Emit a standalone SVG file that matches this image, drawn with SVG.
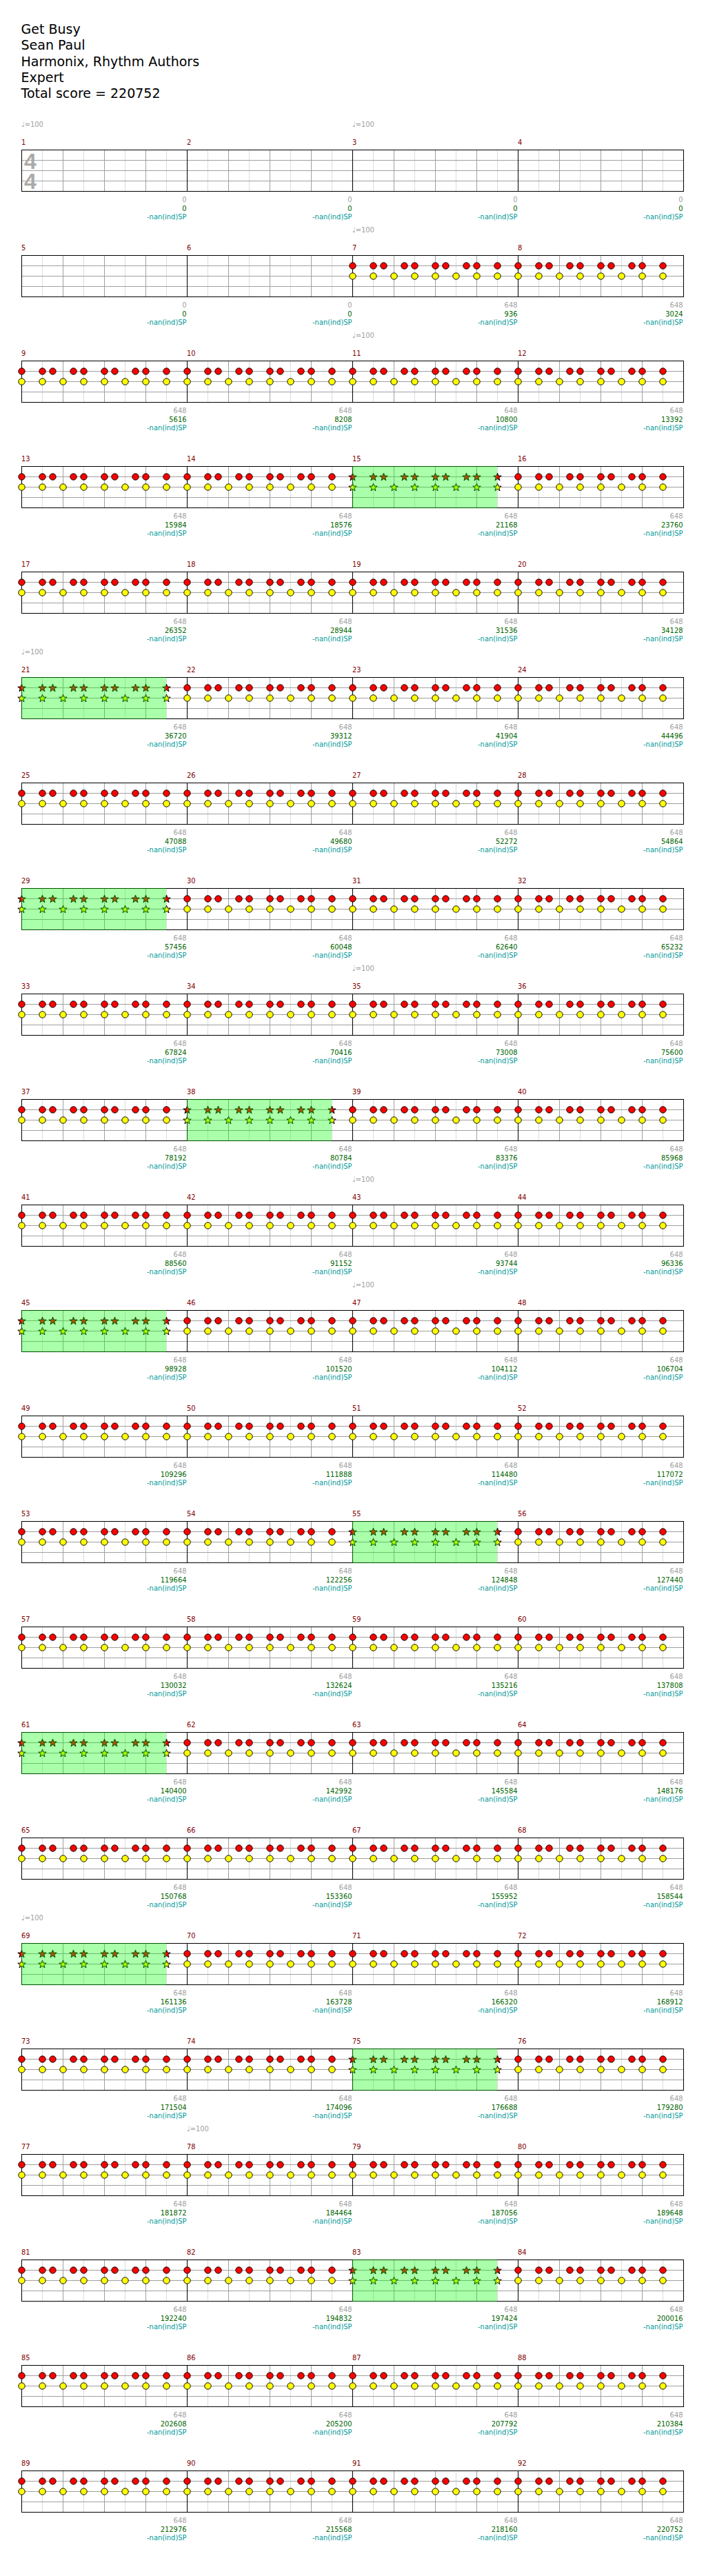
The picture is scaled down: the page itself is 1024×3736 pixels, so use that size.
<svg xmlns="http://www.w3.org/2000/svg" xmlns:xlink="http://www.w3.org/1999/xlink" width="1024" height="3736" viewBox="0 0 1024 3736">
<style>
.t{font-family:'DejaVu Sans',sans-serif;font-size:19px;fill:#000}
.s{font-family:'DejaVu Sans Condensed','DejaVu Sans',sans-serif;font-stretch:condensed;font-size:11px}
.mn{fill:#800000}
.tp{fill:#a0a0a0}
.g{fill:#a0a0a0;text-anchor:end}
.sc{fill:#006400;text-anchor:end}
.sp{fill:#009999;text-anchor:end}
.ts{font-family:'Liberation Sans',Arial,sans-serif;font-weight:bold;font-size:32px;fill:#aaaaaa}
.bd{fill:none;stroke:#000;stroke-width:1;shape-rendering:crispEdges}
.lt{stroke:#dcdcdc;stroke-width:1;fill:none;shape-rendering:crispEdges}
.dk{stroke:#a0a0a0;stroke-width:1;fill:none;shape-rendering:crispEdges}
.bar{stroke:#000;stroke-width:1;fill:none;shape-rendering:crispEdges}
.r{fill:#ff0000;stroke:#000;stroke-width:1}
.y{fill:#ffff00;stroke:#000;stroke-width:1}
.ov{fill:#00ff00;fill-opacity:0.333}
</style>
<defs>
<g id="grid">
<path class="lt" d="M30.5 1V60M90.5 1V60M150.5 1V60M210.5 1V60"/>
<path class="dk" d="M60.5 1V60M120.5 1V60M180.5 1V60M1 15.5H240M1 30.5H240M1 45.5H240"/>
<path class="bar" d="M0.5 0V61"/>
</g>
<g id="n">
<circle class="r" cx="0.5" cy="15.5" r="4.7"/><circle class="r" cx="30.5" cy="15.5" r="4.7"/><circle class="r" cx="45.5" cy="15.5" r="4.7"/><circle class="r" cx="75.5" cy="15.5" r="4.7"/><circle class="r" cx="90.5" cy="15.5" r="4.7"/><circle class="r" cx="120.5" cy="15.5" r="4.7"/><circle class="r" cx="135.5" cy="15.5" r="4.7"/><circle class="r" cx="165.5" cy="15.5" r="4.7"/><circle class="r" cx="180.5" cy="15.5" r="4.7"/><circle class="r" cx="210.5" cy="15.5" r="4.7"/>
<circle class="y" cx="0.5" cy="30.5" r="4.7"/><circle class="y" cx="30.5" cy="30.5" r="4.7"/><circle class="y" cx="60.5" cy="30.5" r="4.7"/><circle class="y" cx="90.5" cy="30.5" r="4.7"/><circle class="y" cx="120.5" cy="30.5" r="4.7"/><circle class="y" cx="150.5" cy="30.5" r="4.7"/><circle class="y" cx="180.5" cy="30.5" r="4.7"/><circle class="y" cx="210.5" cy="30.5" r="4.7"/>
</g>
<path id="star" d="M0,-6L1.41,-1.94L5.71,-1.85L2.28,0.74L3.53,4.85L0,2.4L-3.53,4.85L-2.28,0.74L-5.71,-1.85L-1.41,-1.94Z"/>
<g id="s">
<use xlink:href="#star" href="#star" class="r" x="0.5" y="16"/><use xlink:href="#star" href="#star" class="r" x="30.5" y="16"/><use xlink:href="#star" href="#star" class="r" x="45.5" y="16"/><use xlink:href="#star" href="#star" class="r" x="75.5" y="16"/><use xlink:href="#star" href="#star" class="r" x="90.5" y="16"/><use xlink:href="#star" href="#star" class="r" x="120.5" y="16"/><use xlink:href="#star" href="#star" class="r" x="135.5" y="16"/><use xlink:href="#star" href="#star" class="r" x="165.5" y="16"/><use xlink:href="#star" href="#star" class="r" x="180.5" y="16"/><use xlink:href="#star" href="#star" class="r" x="210.5" y="16"/>
<use xlink:href="#star" href="#star" class="y" x="0.5" y="31"/><use xlink:href="#star" href="#star" class="y" x="30.5" y="31"/><use xlink:href="#star" href="#star" class="y" x="60.5" y="31"/><use xlink:href="#star" href="#star" class="y" x="90.5" y="31"/><use xlink:href="#star" href="#star" class="y" x="120.5" y="31"/><use xlink:href="#star" href="#star" class="y" x="150.5" y="31"/><use xlink:href="#star" href="#star" class="y" x="180.5" y="31"/><use xlink:href="#star" href="#star" class="y" x="210.5" y="31"/>
</g>
<rect id="ov" class="ov" x="0" y="0" width="210" height="61"/>
</defs>
<rect x="0" y="0" width="1024" height="3736" fill="#fff"/>
<g id="title">
<text class="t" x="30.5" y="49">Get Busy</text>
<text class="t" x="30.5" y="72.2">Sean Paul</text>
<text class="t" x="30.5" y="95.5">Harmonix, Rhythm Authors</text>
<text class="t" x="30.5" y="118.6">Expert</text>
<text class="t" x="30.5" y="141.7">Total score = 220752</text>
</g>
<g id="staves">
<rect class="bd" x="31.5" y="217.5" width="960" height="60"/>
<rect class="bd" x="31.5" y="370.5" width="960" height="60"/>
<rect class="bd" x="31.5" y="523.5" width="960" height="60"/>
<rect class="bd" x="31.5" y="676.5" width="960" height="60"/>
<rect class="bd" x="31.5" y="829.5" width="960" height="60"/>
<rect class="bd" x="31.5" y="982.5" width="960" height="60"/>
<rect class="bd" x="31.5" y="1135.5" width="960" height="60"/>
<rect class="bd" x="31.5" y="1288.5" width="960" height="60"/>
<rect class="bd" x="31.5" y="1441.5" width="960" height="60"/>
<rect class="bd" x="31.5" y="1594.5" width="960" height="60"/>
<rect class="bd" x="31.5" y="1747.5" width="960" height="60"/>
<rect class="bd" x="31.5" y="1900.5" width="960" height="60"/>
<rect class="bd" x="31.5" y="2053.5" width="960" height="60"/>
<rect class="bd" x="31.5" y="2206.5" width="960" height="60"/>
<rect class="bd" x="31.5" y="2359.5" width="960" height="60"/>
<rect class="bd" x="31.5" y="2512.5" width="960" height="60"/>
<rect class="bd" x="31.5" y="2665.5" width="960" height="60"/>
<rect class="bd" x="31.5" y="2818.5" width="960" height="60"/>
<rect class="bd" x="31.5" y="2971.5" width="960" height="60"/>
<rect class="bd" x="31.5" y="3124.5" width="960" height="60"/>
<rect class="bd" x="31.5" y="3277.5" width="960" height="60"/>
<rect class="bd" x="31.5" y="3430.5" width="960" height="60"/>
<rect class="bd" x="31.5" y="3583.5" width="960" height="60"/>
</g>
<g id="measures">
<g id="m1" transform="translate(31,217)"><use href="#grid" xlink:href="#grid"/><text class="ts" x="4" y="28">4</text><text class="ts" x="4" y="57">4</text><text class="s tp" y="-33">♩=100</text><text class="s mn" y="-7">1</text><text class="s g" x="239.5" y="75.7">0</text><text class="s sc" x="239.5" y="88.7">0</text><text class="s sp" x="239.5" y="101.3">-nan(ind)SP</text></g>
<g id="m2" transform="translate(271,217)"><use href="#grid" xlink:href="#grid"/><text class="s mn" y="-7">2</text><text class="s g" x="239.5" y="75.7">0</text><text class="s sc" x="239.5" y="88.7">0</text><text class="s sp" x="239.5" y="101.3">-nan(ind)SP</text></g>
<g id="m3" transform="translate(511,217)"><use href="#grid" xlink:href="#grid"/><text class="s tp" y="-33">♩=100</text><text class="s mn" y="-7">3</text><text class="s g" x="239.5" y="75.7">0</text><text class="s sc" x="239.5" y="88.7">0</text><text class="s sp" x="239.5" y="101.3">-nan(ind)SP</text></g>
<g id="m4" transform="translate(751,217)"><use href="#grid" xlink:href="#grid"/><text class="s mn" y="-7">4</text><text class="s g" x="239.5" y="75.7">0</text><text class="s sc" x="239.5" y="88.7">0</text><text class="s sp" x="239.5" y="101.3">-nan(ind)SP</text></g>
<g id="m5" transform="translate(31,370)"><use href="#grid" xlink:href="#grid"/><text class="s mn" y="-7">5</text><text class="s g" x="239.5" y="75.7">0</text><text class="s sc" x="239.5" y="88.7">0</text><text class="s sp" x="239.5" y="101.3">-nan(ind)SP</text></g>
<g id="m6" transform="translate(271,370)"><use href="#grid" xlink:href="#grid"/><text class="s mn" y="-7">6</text><text class="s g" x="239.5" y="75.7">0</text><text class="s sc" x="239.5" y="88.7">0</text><text class="s sp" x="239.5" y="101.3">-nan(ind)SP</text></g>
<g id="m7" transform="translate(511,370)"><use href="#grid" xlink:href="#grid"/><use href="#n" xlink:href="#n"/><text class="s tp" y="-33">♩=100</text><text class="s mn" y="-7">7</text><text class="s g" x="239.5" y="75.7">648</text><text class="s sc" x="239.5" y="88.7">936</text><text class="s sp" x="239.5" y="101.3">-nan(ind)SP</text></g>
<g id="m8" transform="translate(751,370)"><use href="#grid" xlink:href="#grid"/><use href="#n" xlink:href="#n"/><text class="s mn" y="-7">8</text><text class="s g" x="239.5" y="75.7">648</text><text class="s sc" x="239.5" y="88.7">3024</text><text class="s sp" x="239.5" y="101.3">-nan(ind)SP</text></g>
<g id="m9" transform="translate(31,523)"><use href="#grid" xlink:href="#grid"/><use href="#n" xlink:href="#n"/><text class="s mn" y="-7">9</text><text class="s g" x="239.5" y="75.7">648</text><text class="s sc" x="239.5" y="88.7">5616</text><text class="s sp" x="239.5" y="101.3">-nan(ind)SP</text></g>
<g id="m10" transform="translate(271,523)"><use href="#grid" xlink:href="#grid"/><use href="#n" xlink:href="#n"/><text class="s mn" y="-7">10</text><text class="s g" x="239.5" y="75.7">648</text><text class="s sc" x="239.5" y="88.7">8208</text><text class="s sp" x="239.5" y="101.3">-nan(ind)SP</text></g>
<g id="m11" transform="translate(511,523)"><use href="#grid" xlink:href="#grid"/><use href="#n" xlink:href="#n"/><text class="s tp" y="-33">♩=100</text><text class="s mn" y="-7">11</text><text class="s g" x="239.5" y="75.7">648</text><text class="s sc" x="239.5" y="88.7">10800</text><text class="s sp" x="239.5" y="101.3">-nan(ind)SP</text></g>
<g id="m12" transform="translate(751,523)"><use href="#grid" xlink:href="#grid"/><use href="#n" xlink:href="#n"/><text class="s mn" y="-7">12</text><text class="s g" x="239.5" y="75.7">648</text><text class="s sc" x="239.5" y="88.7">13392</text><text class="s sp" x="239.5" y="101.3">-nan(ind)SP</text></g>
<g id="m13" transform="translate(31,676)"><use href="#grid" xlink:href="#grid"/><use href="#n" xlink:href="#n"/><text class="s mn" y="-7">13</text><text class="s g" x="239.5" y="75.7">648</text><text class="s sc" x="239.5" y="88.7">15984</text><text class="s sp" x="239.5" y="101.3">-nan(ind)SP</text></g>
<g id="m14" transform="translate(271,676)"><use href="#grid" xlink:href="#grid"/><use href="#n" xlink:href="#n"/><text class="s mn" y="-7">14</text><text class="s g" x="239.5" y="75.7">648</text><text class="s sc" x="239.5" y="88.7">18576</text><text class="s sp" x="239.5" y="101.3">-nan(ind)SP</text></g>
<g id="m15" transform="translate(511,676)"><use href="#grid" xlink:href="#grid"/><use href="#s" xlink:href="#s"/><use href="#ov" xlink:href="#ov"/><text class="s mn" y="-7">15</text><text class="s g" x="239.5" y="75.7">648</text><text class="s sc" x="239.5" y="88.7">21168</text><text class="s sp" x="239.5" y="101.3">-nan(ind)SP</text></g>
<g id="m16" transform="translate(751,676)"><use href="#grid" xlink:href="#grid"/><use href="#n" xlink:href="#n"/><text class="s mn" y="-7">16</text><text class="s g" x="239.5" y="75.7">648</text><text class="s sc" x="239.5" y="88.7">23760</text><text class="s sp" x="239.5" y="101.3">-nan(ind)SP</text></g>
<g id="m17" transform="translate(31,829)"><use href="#grid" xlink:href="#grid"/><use href="#n" xlink:href="#n"/><text class="s mn" y="-7">17</text><text class="s g" x="239.5" y="75.7">648</text><text class="s sc" x="239.5" y="88.7">26352</text><text class="s sp" x="239.5" y="101.3">-nan(ind)SP</text></g>
<g id="m18" transform="translate(271,829)"><use href="#grid" xlink:href="#grid"/><use href="#n" xlink:href="#n"/><text class="s mn" y="-7">18</text><text class="s g" x="239.5" y="75.7">648</text><text class="s sc" x="239.5" y="88.7">28944</text><text class="s sp" x="239.5" y="101.3">-nan(ind)SP</text></g>
<g id="m19" transform="translate(511,829)"><use href="#grid" xlink:href="#grid"/><use href="#n" xlink:href="#n"/><text class="s mn" y="-7">19</text><text class="s g" x="239.5" y="75.7">648</text><text class="s sc" x="239.5" y="88.7">31536</text><text class="s sp" x="239.5" y="101.3">-nan(ind)SP</text></g>
<g id="m20" transform="translate(751,829)"><use href="#grid" xlink:href="#grid"/><use href="#n" xlink:href="#n"/><text class="s mn" y="-7">20</text><text class="s g" x="239.5" y="75.7">648</text><text class="s sc" x="239.5" y="88.7">34128</text><text class="s sp" x="239.5" y="101.3">-nan(ind)SP</text></g>
<g id="m21" transform="translate(31,982)"><use href="#grid" xlink:href="#grid"/><use href="#s" xlink:href="#s"/><use href="#ov" xlink:href="#ov"/><text class="s tp" y="-33">♩=100</text><text class="s mn" y="-7">21</text><text class="s g" x="239.5" y="75.7">648</text><text class="s sc" x="239.5" y="88.7">36720</text><text class="s sp" x="239.5" y="101.3">-nan(ind)SP</text></g>
<g id="m22" transform="translate(271,982)"><use href="#grid" xlink:href="#grid"/><use href="#n" xlink:href="#n"/><text class="s mn" y="-7">22</text><text class="s g" x="239.5" y="75.7">648</text><text class="s sc" x="239.5" y="88.7">39312</text><text class="s sp" x="239.5" y="101.3">-nan(ind)SP</text></g>
<g id="m23" transform="translate(511,982)"><use href="#grid" xlink:href="#grid"/><use href="#n" xlink:href="#n"/><text class="s mn" y="-7">23</text><text class="s g" x="239.5" y="75.7">648</text><text class="s sc" x="239.5" y="88.7">41904</text><text class="s sp" x="239.5" y="101.3">-nan(ind)SP</text></g>
<g id="m24" transform="translate(751,982)"><use href="#grid" xlink:href="#grid"/><use href="#n" xlink:href="#n"/><text class="s mn" y="-7">24</text><text class="s g" x="239.5" y="75.7">648</text><text class="s sc" x="239.5" y="88.7">44496</text><text class="s sp" x="239.5" y="101.3">-nan(ind)SP</text></g>
<g id="m25" transform="translate(31,1135)"><use href="#grid" xlink:href="#grid"/><use href="#n" xlink:href="#n"/><text class="s mn" y="-7">25</text><text class="s g" x="239.5" y="75.7">648</text><text class="s sc" x="239.5" y="88.7">47088</text><text class="s sp" x="239.5" y="101.3">-nan(ind)SP</text></g>
<g id="m26" transform="translate(271,1135)"><use href="#grid" xlink:href="#grid"/><use href="#n" xlink:href="#n"/><text class="s mn" y="-7">26</text><text class="s g" x="239.5" y="75.7">648</text><text class="s sc" x="239.5" y="88.7">49680</text><text class="s sp" x="239.5" y="101.3">-nan(ind)SP</text></g>
<g id="m27" transform="translate(511,1135)"><use href="#grid" xlink:href="#grid"/><use href="#n" xlink:href="#n"/><text class="s mn" y="-7">27</text><text class="s g" x="239.5" y="75.7">648</text><text class="s sc" x="239.5" y="88.7">52272</text><text class="s sp" x="239.5" y="101.3">-nan(ind)SP</text></g>
<g id="m28" transform="translate(751,1135)"><use href="#grid" xlink:href="#grid"/><use href="#n" xlink:href="#n"/><text class="s mn" y="-7">28</text><text class="s g" x="239.5" y="75.7">648</text><text class="s sc" x="239.5" y="88.7">54864</text><text class="s sp" x="239.5" y="101.3">-nan(ind)SP</text></g>
<g id="m29" transform="translate(31,1288)"><use href="#grid" xlink:href="#grid"/><use href="#s" xlink:href="#s"/><use href="#ov" xlink:href="#ov"/><text class="s mn" y="-7">29</text><text class="s g" x="239.5" y="75.7">648</text><text class="s sc" x="239.5" y="88.7">57456</text><text class="s sp" x="239.5" y="101.3">-nan(ind)SP</text></g>
<g id="m30" transform="translate(271,1288)"><use href="#grid" xlink:href="#grid"/><use href="#n" xlink:href="#n"/><text class="s mn" y="-7">30</text><text class="s g" x="239.5" y="75.7">648</text><text class="s sc" x="239.5" y="88.7">60048</text><text class="s sp" x="239.5" y="101.3">-nan(ind)SP</text></g>
<g id="m31" transform="translate(511,1288)"><use href="#grid" xlink:href="#grid"/><use href="#n" xlink:href="#n"/><text class="s mn" y="-7">31</text><text class="s g" x="239.5" y="75.7">648</text><text class="s sc" x="239.5" y="88.7">62640</text><text class="s sp" x="239.5" y="101.3">-nan(ind)SP</text></g>
<g id="m32" transform="translate(751,1288)"><use href="#grid" xlink:href="#grid"/><use href="#n" xlink:href="#n"/><text class="s mn" y="-7">32</text><text class="s g" x="239.5" y="75.7">648</text><text class="s sc" x="239.5" y="88.7">65232</text><text class="s sp" x="239.5" y="101.3">-nan(ind)SP</text></g>
<g id="m33" transform="translate(31,1441)"><use href="#grid" xlink:href="#grid"/><use href="#n" xlink:href="#n"/><text class="s mn" y="-7">33</text><text class="s g" x="239.5" y="75.7">648</text><text class="s sc" x="239.5" y="88.7">67824</text><text class="s sp" x="239.5" y="101.3">-nan(ind)SP</text></g>
<g id="m34" transform="translate(271,1441)"><use href="#grid" xlink:href="#grid"/><use href="#n" xlink:href="#n"/><text class="s mn" y="-7">34</text><text class="s g" x="239.5" y="75.7">648</text><text class="s sc" x="239.5" y="88.7">70416</text><text class="s sp" x="239.5" y="101.3">-nan(ind)SP</text></g>
<g id="m35" transform="translate(511,1441)"><use href="#grid" xlink:href="#grid"/><use href="#n" xlink:href="#n"/><text class="s tp" y="-33">♩=100</text><text class="s mn" y="-7">35</text><text class="s g" x="239.5" y="75.7">648</text><text class="s sc" x="239.5" y="88.7">73008</text><text class="s sp" x="239.5" y="101.3">-nan(ind)SP</text></g>
<g id="m36" transform="translate(751,1441)"><use href="#grid" xlink:href="#grid"/><use href="#n" xlink:href="#n"/><text class="s mn" y="-7">36</text><text class="s g" x="239.5" y="75.7">648</text><text class="s sc" x="239.5" y="88.7">75600</text><text class="s sp" x="239.5" y="101.3">-nan(ind)SP</text></g>
<g id="m37" transform="translate(31,1594)"><use href="#grid" xlink:href="#grid"/><use href="#n" xlink:href="#n"/><text class="s mn" y="-7">37</text><text class="s g" x="239.5" y="75.7">648</text><text class="s sc" x="239.5" y="88.7">78192</text><text class="s sp" x="239.5" y="101.3">-nan(ind)SP</text></g>
<g id="m38" transform="translate(271,1594)"><use href="#grid" xlink:href="#grid"/><use href="#s" xlink:href="#s"/><use href="#ov" xlink:href="#ov"/><text class="s mn" y="-7">38</text><text class="s g" x="239.5" y="75.7">648</text><text class="s sc" x="239.5" y="88.7">80784</text><text class="s sp" x="239.5" y="101.3">-nan(ind)SP</text></g>
<g id="m39" transform="translate(511,1594)"><use href="#grid" xlink:href="#grid"/><use href="#n" xlink:href="#n"/><text class="s mn" y="-7">39</text><text class="s g" x="239.5" y="75.7">648</text><text class="s sc" x="239.5" y="88.7">83376</text><text class="s sp" x="239.5" y="101.3">-nan(ind)SP</text></g>
<g id="m40" transform="translate(751,1594)"><use href="#grid" xlink:href="#grid"/><use href="#n" xlink:href="#n"/><text class="s mn" y="-7">40</text><text class="s g" x="239.5" y="75.7">648</text><text class="s sc" x="239.5" y="88.7">85968</text><text class="s sp" x="239.5" y="101.3">-nan(ind)SP</text></g>
<g id="m41" transform="translate(31,1747)"><use href="#grid" xlink:href="#grid"/><use href="#n" xlink:href="#n"/><text class="s mn" y="-7">41</text><text class="s g" x="239.5" y="75.7">648</text><text class="s sc" x="239.5" y="88.7">88560</text><text class="s sp" x="239.5" y="101.3">-nan(ind)SP</text></g>
<g id="m42" transform="translate(271,1747)"><use href="#grid" xlink:href="#grid"/><use href="#n" xlink:href="#n"/><text class="s mn" y="-7">42</text><text class="s g" x="239.5" y="75.7">648</text><text class="s sc" x="239.5" y="88.7">91152</text><text class="s sp" x="239.5" y="101.3">-nan(ind)SP</text></g>
<g id="m43" transform="translate(511,1747)"><use href="#grid" xlink:href="#grid"/><use href="#n" xlink:href="#n"/><text class="s tp" y="-33">♩=100</text><text class="s mn" y="-7">43</text><text class="s g" x="239.5" y="75.7">648</text><text class="s sc" x="239.5" y="88.7">93744</text><text class="s sp" x="239.5" y="101.3">-nan(ind)SP</text></g>
<g id="m44" transform="translate(751,1747)"><use href="#grid" xlink:href="#grid"/><use href="#n" xlink:href="#n"/><text class="s mn" y="-7">44</text><text class="s g" x="239.5" y="75.7">648</text><text class="s sc" x="239.5" y="88.7">96336</text><text class="s sp" x="239.5" y="101.3">-nan(ind)SP</text></g>
<g id="m45" transform="translate(31,1900)"><use href="#grid" xlink:href="#grid"/><use href="#s" xlink:href="#s"/><use href="#ov" xlink:href="#ov"/><text class="s mn" y="-7">45</text><text class="s g" x="239.5" y="75.7">648</text><text class="s sc" x="239.5" y="88.7">98928</text><text class="s sp" x="239.5" y="101.3">-nan(ind)SP</text></g>
<g id="m46" transform="translate(271,1900)"><use href="#grid" xlink:href="#grid"/><use href="#n" xlink:href="#n"/><text class="s mn" y="-7">46</text><text class="s g" x="239.5" y="75.7">648</text><text class="s sc" x="239.5" y="88.7">101520</text><text class="s sp" x="239.5" y="101.3">-nan(ind)SP</text></g>
<g id="m47" transform="translate(511,1900)"><use href="#grid" xlink:href="#grid"/><use href="#n" xlink:href="#n"/><text class="s tp" y="-33">♩=100</text><text class="s mn" y="-7">47</text><text class="s g" x="239.5" y="75.7">648</text><text class="s sc" x="239.5" y="88.7">104112</text><text class="s sp" x="239.5" y="101.3">-nan(ind)SP</text></g>
<g id="m48" transform="translate(751,1900)"><use href="#grid" xlink:href="#grid"/><use href="#n" xlink:href="#n"/><text class="s mn" y="-7">48</text><text class="s g" x="239.5" y="75.7">648</text><text class="s sc" x="239.5" y="88.7">106704</text><text class="s sp" x="239.5" y="101.3">-nan(ind)SP</text></g>
<g id="m49" transform="translate(31,2053)"><use href="#grid" xlink:href="#grid"/><use href="#n" xlink:href="#n"/><text class="s mn" y="-7">49</text><text class="s g" x="239.5" y="75.7">648</text><text class="s sc" x="239.5" y="88.7">109296</text><text class="s sp" x="239.5" y="101.3">-nan(ind)SP</text></g>
<g id="m50" transform="translate(271,2053)"><use href="#grid" xlink:href="#grid"/><use href="#n" xlink:href="#n"/><text class="s mn" y="-7">50</text><text class="s g" x="239.5" y="75.7">648</text><text class="s sc" x="239.5" y="88.7">111888</text><text class="s sp" x="239.5" y="101.3">-nan(ind)SP</text></g>
<g id="m51" transform="translate(511,2053)"><use href="#grid" xlink:href="#grid"/><use href="#n" xlink:href="#n"/><text class="s mn" y="-7">51</text><text class="s g" x="239.5" y="75.7">648</text><text class="s sc" x="239.5" y="88.7">114480</text><text class="s sp" x="239.5" y="101.3">-nan(ind)SP</text></g>
<g id="m52" transform="translate(751,2053)"><use href="#grid" xlink:href="#grid"/><use href="#n" xlink:href="#n"/><text class="s mn" y="-7">52</text><text class="s g" x="239.5" y="75.7">648</text><text class="s sc" x="239.5" y="88.7">117072</text><text class="s sp" x="239.5" y="101.3">-nan(ind)SP</text></g>
<g id="m53" transform="translate(31,2206)"><use href="#grid" xlink:href="#grid"/><use href="#n" xlink:href="#n"/><text class="s mn" y="-7">53</text><text class="s g" x="239.5" y="75.7">648</text><text class="s sc" x="239.5" y="88.7">119664</text><text class="s sp" x="239.5" y="101.3">-nan(ind)SP</text></g>
<g id="m54" transform="translate(271,2206)"><use href="#grid" xlink:href="#grid"/><use href="#n" xlink:href="#n"/><text class="s mn" y="-7">54</text><text class="s g" x="239.5" y="75.7">648</text><text class="s sc" x="239.5" y="88.7">122256</text><text class="s sp" x="239.5" y="101.3">-nan(ind)SP</text></g>
<g id="m55" transform="translate(511,2206)"><use href="#grid" xlink:href="#grid"/><use href="#s" xlink:href="#s"/><use href="#ov" xlink:href="#ov"/><text class="s mn" y="-7">55</text><text class="s g" x="239.5" y="75.7">648</text><text class="s sc" x="239.5" y="88.7">124848</text><text class="s sp" x="239.5" y="101.3">-nan(ind)SP</text></g>
<g id="m56" transform="translate(751,2206)"><use href="#grid" xlink:href="#grid"/><use href="#n" xlink:href="#n"/><text class="s mn" y="-7">56</text><text class="s g" x="239.5" y="75.7">648</text><text class="s sc" x="239.5" y="88.7">127440</text><text class="s sp" x="239.5" y="101.3">-nan(ind)SP</text></g>
<g id="m57" transform="translate(31,2359)"><use href="#grid" xlink:href="#grid"/><use href="#n" xlink:href="#n"/><text class="s mn" y="-7">57</text><text class="s g" x="239.5" y="75.7">648</text><text class="s sc" x="239.5" y="88.7">130032</text><text class="s sp" x="239.5" y="101.3">-nan(ind)SP</text></g>
<g id="m58" transform="translate(271,2359)"><use href="#grid" xlink:href="#grid"/><use href="#n" xlink:href="#n"/><text class="s mn" y="-7">58</text><text class="s g" x="239.5" y="75.7">648</text><text class="s sc" x="239.5" y="88.7">132624</text><text class="s sp" x="239.5" y="101.3">-nan(ind)SP</text></g>
<g id="m59" transform="translate(511,2359)"><use href="#grid" xlink:href="#grid"/><use href="#n" xlink:href="#n"/><text class="s mn" y="-7">59</text><text class="s g" x="239.5" y="75.7">648</text><text class="s sc" x="239.5" y="88.7">135216</text><text class="s sp" x="239.5" y="101.3">-nan(ind)SP</text></g>
<g id="m60" transform="translate(751,2359)"><use href="#grid" xlink:href="#grid"/><use href="#n" xlink:href="#n"/><text class="s mn" y="-7">60</text><text class="s g" x="239.5" y="75.7">648</text><text class="s sc" x="239.5" y="88.7">137808</text><text class="s sp" x="239.5" y="101.3">-nan(ind)SP</text></g>
<g id="m61" transform="translate(31,2512)"><use href="#grid" xlink:href="#grid"/><use href="#s" xlink:href="#s"/><use href="#ov" xlink:href="#ov"/><text class="s mn" y="-7">61</text><text class="s g" x="239.5" y="75.7">648</text><text class="s sc" x="239.5" y="88.7">140400</text><text class="s sp" x="239.5" y="101.3">-nan(ind)SP</text></g>
<g id="m62" transform="translate(271,2512)"><use href="#grid" xlink:href="#grid"/><use href="#n" xlink:href="#n"/><text class="s mn" y="-7">62</text><text class="s g" x="239.5" y="75.7">648</text><text class="s sc" x="239.5" y="88.7">142992</text><text class="s sp" x="239.5" y="101.3">-nan(ind)SP</text></g>
<g id="m63" transform="translate(511,2512)"><use href="#grid" xlink:href="#grid"/><use href="#n" xlink:href="#n"/><text class="s mn" y="-7">63</text><text class="s g" x="239.5" y="75.7">648</text><text class="s sc" x="239.5" y="88.7">145584</text><text class="s sp" x="239.5" y="101.3">-nan(ind)SP</text></g>
<g id="m64" transform="translate(751,2512)"><use href="#grid" xlink:href="#grid"/><use href="#n" xlink:href="#n"/><text class="s mn" y="-7">64</text><text class="s g" x="239.5" y="75.7">648</text><text class="s sc" x="239.5" y="88.7">148176</text><text class="s sp" x="239.5" y="101.3">-nan(ind)SP</text></g>
<g id="m65" transform="translate(31,2665)"><use href="#grid" xlink:href="#grid"/><use href="#n" xlink:href="#n"/><text class="s mn" y="-7">65</text><text class="s g" x="239.5" y="75.7">648</text><text class="s sc" x="239.5" y="88.7">150768</text><text class="s sp" x="239.5" y="101.3">-nan(ind)SP</text></g>
<g id="m66" transform="translate(271,2665)"><use href="#grid" xlink:href="#grid"/><use href="#n" xlink:href="#n"/><text class="s mn" y="-7">66</text><text class="s g" x="239.5" y="75.7">648</text><text class="s sc" x="239.5" y="88.7">153360</text><text class="s sp" x="239.5" y="101.3">-nan(ind)SP</text></g>
<g id="m67" transform="translate(511,2665)"><use href="#grid" xlink:href="#grid"/><use href="#n" xlink:href="#n"/><text class="s mn" y="-7">67</text><text class="s g" x="239.5" y="75.7">648</text><text class="s sc" x="239.5" y="88.7">155952</text><text class="s sp" x="239.5" y="101.3">-nan(ind)SP</text></g>
<g id="m68" transform="translate(751,2665)"><use href="#grid" xlink:href="#grid"/><use href="#n" xlink:href="#n"/><text class="s mn" y="-7">68</text><text class="s g" x="239.5" y="75.7">648</text><text class="s sc" x="239.5" y="88.7">158544</text><text class="s sp" x="239.5" y="101.3">-nan(ind)SP</text></g>
<g id="m69" transform="translate(31,2818)"><use href="#grid" xlink:href="#grid"/><use href="#s" xlink:href="#s"/><use href="#ov" xlink:href="#ov"/><text class="s tp" y="-33">♩=100</text><text class="s mn" y="-7">69</text><text class="s g" x="239.5" y="75.7">648</text><text class="s sc" x="239.5" y="88.7">161136</text><text class="s sp" x="239.5" y="101.3">-nan(ind)SP</text></g>
<g id="m70" transform="translate(271,2818)"><use href="#grid" xlink:href="#grid"/><use href="#n" xlink:href="#n"/><text class="s mn" y="-7">70</text><text class="s g" x="239.5" y="75.7">648</text><text class="s sc" x="239.5" y="88.7">163728</text><text class="s sp" x="239.5" y="101.3">-nan(ind)SP</text></g>
<g id="m71" transform="translate(511,2818)"><use href="#grid" xlink:href="#grid"/><use href="#n" xlink:href="#n"/><text class="s mn" y="-7">71</text><text class="s g" x="239.5" y="75.7">648</text><text class="s sc" x="239.5" y="88.7">166320</text><text class="s sp" x="239.5" y="101.3">-nan(ind)SP</text></g>
<g id="m72" transform="translate(751,2818)"><use href="#grid" xlink:href="#grid"/><use href="#n" xlink:href="#n"/><text class="s mn" y="-7">72</text><text class="s g" x="239.5" y="75.7">648</text><text class="s sc" x="239.5" y="88.7">168912</text><text class="s sp" x="239.5" y="101.3">-nan(ind)SP</text></g>
<g id="m73" transform="translate(31,2971)"><use href="#grid" xlink:href="#grid"/><use href="#n" xlink:href="#n"/><text class="s mn" y="-7">73</text><text class="s g" x="239.5" y="75.7">648</text><text class="s sc" x="239.5" y="88.7">171504</text><text class="s sp" x="239.5" y="101.3">-nan(ind)SP</text></g>
<g id="m74" transform="translate(271,2971)"><use href="#grid" xlink:href="#grid"/><use href="#n" xlink:href="#n"/><text class="s mn" y="-7">74</text><text class="s g" x="239.5" y="75.7">648</text><text class="s sc" x="239.5" y="88.7">174096</text><text class="s sp" x="239.5" y="101.3">-nan(ind)SP</text></g>
<g id="m75" transform="translate(511,2971)"><use href="#grid" xlink:href="#grid"/><use href="#s" xlink:href="#s"/><use href="#ov" xlink:href="#ov"/><text class="s mn" y="-7">75</text><text class="s g" x="239.5" y="75.7">648</text><text class="s sc" x="239.5" y="88.7">176688</text><text class="s sp" x="239.5" y="101.3">-nan(ind)SP</text></g>
<g id="m76" transform="translate(751,2971)"><use href="#grid" xlink:href="#grid"/><use href="#n" xlink:href="#n"/><text class="s mn" y="-7">76</text><text class="s g" x="239.5" y="75.7">648</text><text class="s sc" x="239.5" y="88.7">179280</text><text class="s sp" x="239.5" y="101.3">-nan(ind)SP</text></g>
<g id="m77" transform="translate(31,3124)"><use href="#grid" xlink:href="#grid"/><use href="#n" xlink:href="#n"/><text class="s mn" y="-7">77</text><text class="s g" x="239.5" y="75.7">648</text><text class="s sc" x="239.5" y="88.7">181872</text><text class="s sp" x="239.5" y="101.3">-nan(ind)SP</text></g>
<g id="m78" transform="translate(271,3124)"><use href="#grid" xlink:href="#grid"/><use href="#n" xlink:href="#n"/><text class="s tp" y="-33">♩=100</text><text class="s mn" y="-7">78</text><text class="s g" x="239.5" y="75.7">648</text><text class="s sc" x="239.5" y="88.7">184464</text><text class="s sp" x="239.5" y="101.3">-nan(ind)SP</text></g>
<g id="m79" transform="translate(511,3124)"><use href="#grid" xlink:href="#grid"/><use href="#n" xlink:href="#n"/><text class="s mn" y="-7">79</text><text class="s g" x="239.5" y="75.7">648</text><text class="s sc" x="239.5" y="88.7">187056</text><text class="s sp" x="239.5" y="101.3">-nan(ind)SP</text></g>
<g id="m80" transform="translate(751,3124)"><use href="#grid" xlink:href="#grid"/><use href="#n" xlink:href="#n"/><text class="s mn" y="-7">80</text><text class="s g" x="239.5" y="75.7">648</text><text class="s sc" x="239.5" y="88.7">189648</text><text class="s sp" x="239.5" y="101.3">-nan(ind)SP</text></g>
<g id="m81" transform="translate(31,3277)"><use href="#grid" xlink:href="#grid"/><use href="#n" xlink:href="#n"/><text class="s mn" y="-7">81</text><text class="s g" x="239.5" y="75.7">648</text><text class="s sc" x="239.5" y="88.7">192240</text><text class="s sp" x="239.5" y="101.3">-nan(ind)SP</text></g>
<g id="m82" transform="translate(271,3277)"><use href="#grid" xlink:href="#grid"/><use href="#n" xlink:href="#n"/><text class="s mn" y="-7">82</text><text class="s g" x="239.5" y="75.7">648</text><text class="s sc" x="239.5" y="88.7">194832</text><text class="s sp" x="239.5" y="101.3">-nan(ind)SP</text></g>
<g id="m83" transform="translate(511,3277)"><use href="#grid" xlink:href="#grid"/><use href="#s" xlink:href="#s"/><use href="#ov" xlink:href="#ov"/><text class="s mn" y="-7">83</text><text class="s g" x="239.5" y="75.7">648</text><text class="s sc" x="239.5" y="88.7">197424</text><text class="s sp" x="239.5" y="101.3">-nan(ind)SP</text></g>
<g id="m84" transform="translate(751,3277)"><use href="#grid" xlink:href="#grid"/><use href="#n" xlink:href="#n"/><text class="s mn" y="-7">84</text><text class="s g" x="239.5" y="75.7">648</text><text class="s sc" x="239.5" y="88.7">200016</text><text class="s sp" x="239.5" y="101.3">-nan(ind)SP</text></g>
<g id="m85" transform="translate(31,3430)"><use href="#grid" xlink:href="#grid"/><use href="#n" xlink:href="#n"/><text class="s mn" y="-7">85</text><text class="s g" x="239.5" y="75.7">648</text><text class="s sc" x="239.5" y="88.7">202608</text><text class="s sp" x="239.5" y="101.3">-nan(ind)SP</text></g>
<g id="m86" transform="translate(271,3430)"><use href="#grid" xlink:href="#grid"/><use href="#n" xlink:href="#n"/><text class="s mn" y="-7">86</text><text class="s g" x="239.5" y="75.7">648</text><text class="s sc" x="239.5" y="88.7">205200</text><text class="s sp" x="239.5" y="101.3">-nan(ind)SP</text></g>
<g id="m87" transform="translate(511,3430)"><use href="#grid" xlink:href="#grid"/><use href="#n" xlink:href="#n"/><text class="s mn" y="-7">87</text><text class="s g" x="239.5" y="75.7">648</text><text class="s sc" x="239.5" y="88.7">207792</text><text class="s sp" x="239.5" y="101.3">-nan(ind)SP</text></g>
<g id="m88" transform="translate(751,3430)"><use href="#grid" xlink:href="#grid"/><use href="#n" xlink:href="#n"/><text class="s mn" y="-7">88</text><text class="s g" x="239.5" y="75.7">648</text><text class="s sc" x="239.5" y="88.7">210384</text><text class="s sp" x="239.5" y="101.3">-nan(ind)SP</text></g>
<g id="m89" transform="translate(31,3583)"><use href="#grid" xlink:href="#grid"/><use href="#n" xlink:href="#n"/><text class="s mn" y="-7">89</text><text class="s g" x="239.5" y="75.7">648</text><text class="s sc" x="239.5" y="88.7">212976</text><text class="s sp" x="239.5" y="101.3">-nan(ind)SP</text></g>
<g id="m90" transform="translate(271,3583)"><use href="#grid" xlink:href="#grid"/><use href="#n" xlink:href="#n"/><text class="s mn" y="-7">90</text><text class="s g" x="239.5" y="75.7">648</text><text class="s sc" x="239.5" y="88.7">215568</text><text class="s sp" x="239.5" y="101.3">-nan(ind)SP</text></g>
<g id="m91" transform="translate(511,3583)"><use href="#grid" xlink:href="#grid"/><use href="#n" xlink:href="#n"/><text class="s mn" y="-7">91</text><text class="s g" x="239.5" y="75.7">648</text><text class="s sc" x="239.5" y="88.7">218160</text><text class="s sp" x="239.5" y="101.3">-nan(ind)SP</text></g>
<g id="m92" transform="translate(751,3583)"><use href="#grid" xlink:href="#grid"/><use href="#n" xlink:href="#n"/><text class="s mn" y="-7">92</text><text class="s g" x="239.5" y="75.7">648</text><text class="s sc" x="239.5" y="88.7">220752</text><text class="s sp" x="239.5" y="101.3">-nan(ind)SP</text></g>
</g>
<g id="connectors"></g>
</svg>
